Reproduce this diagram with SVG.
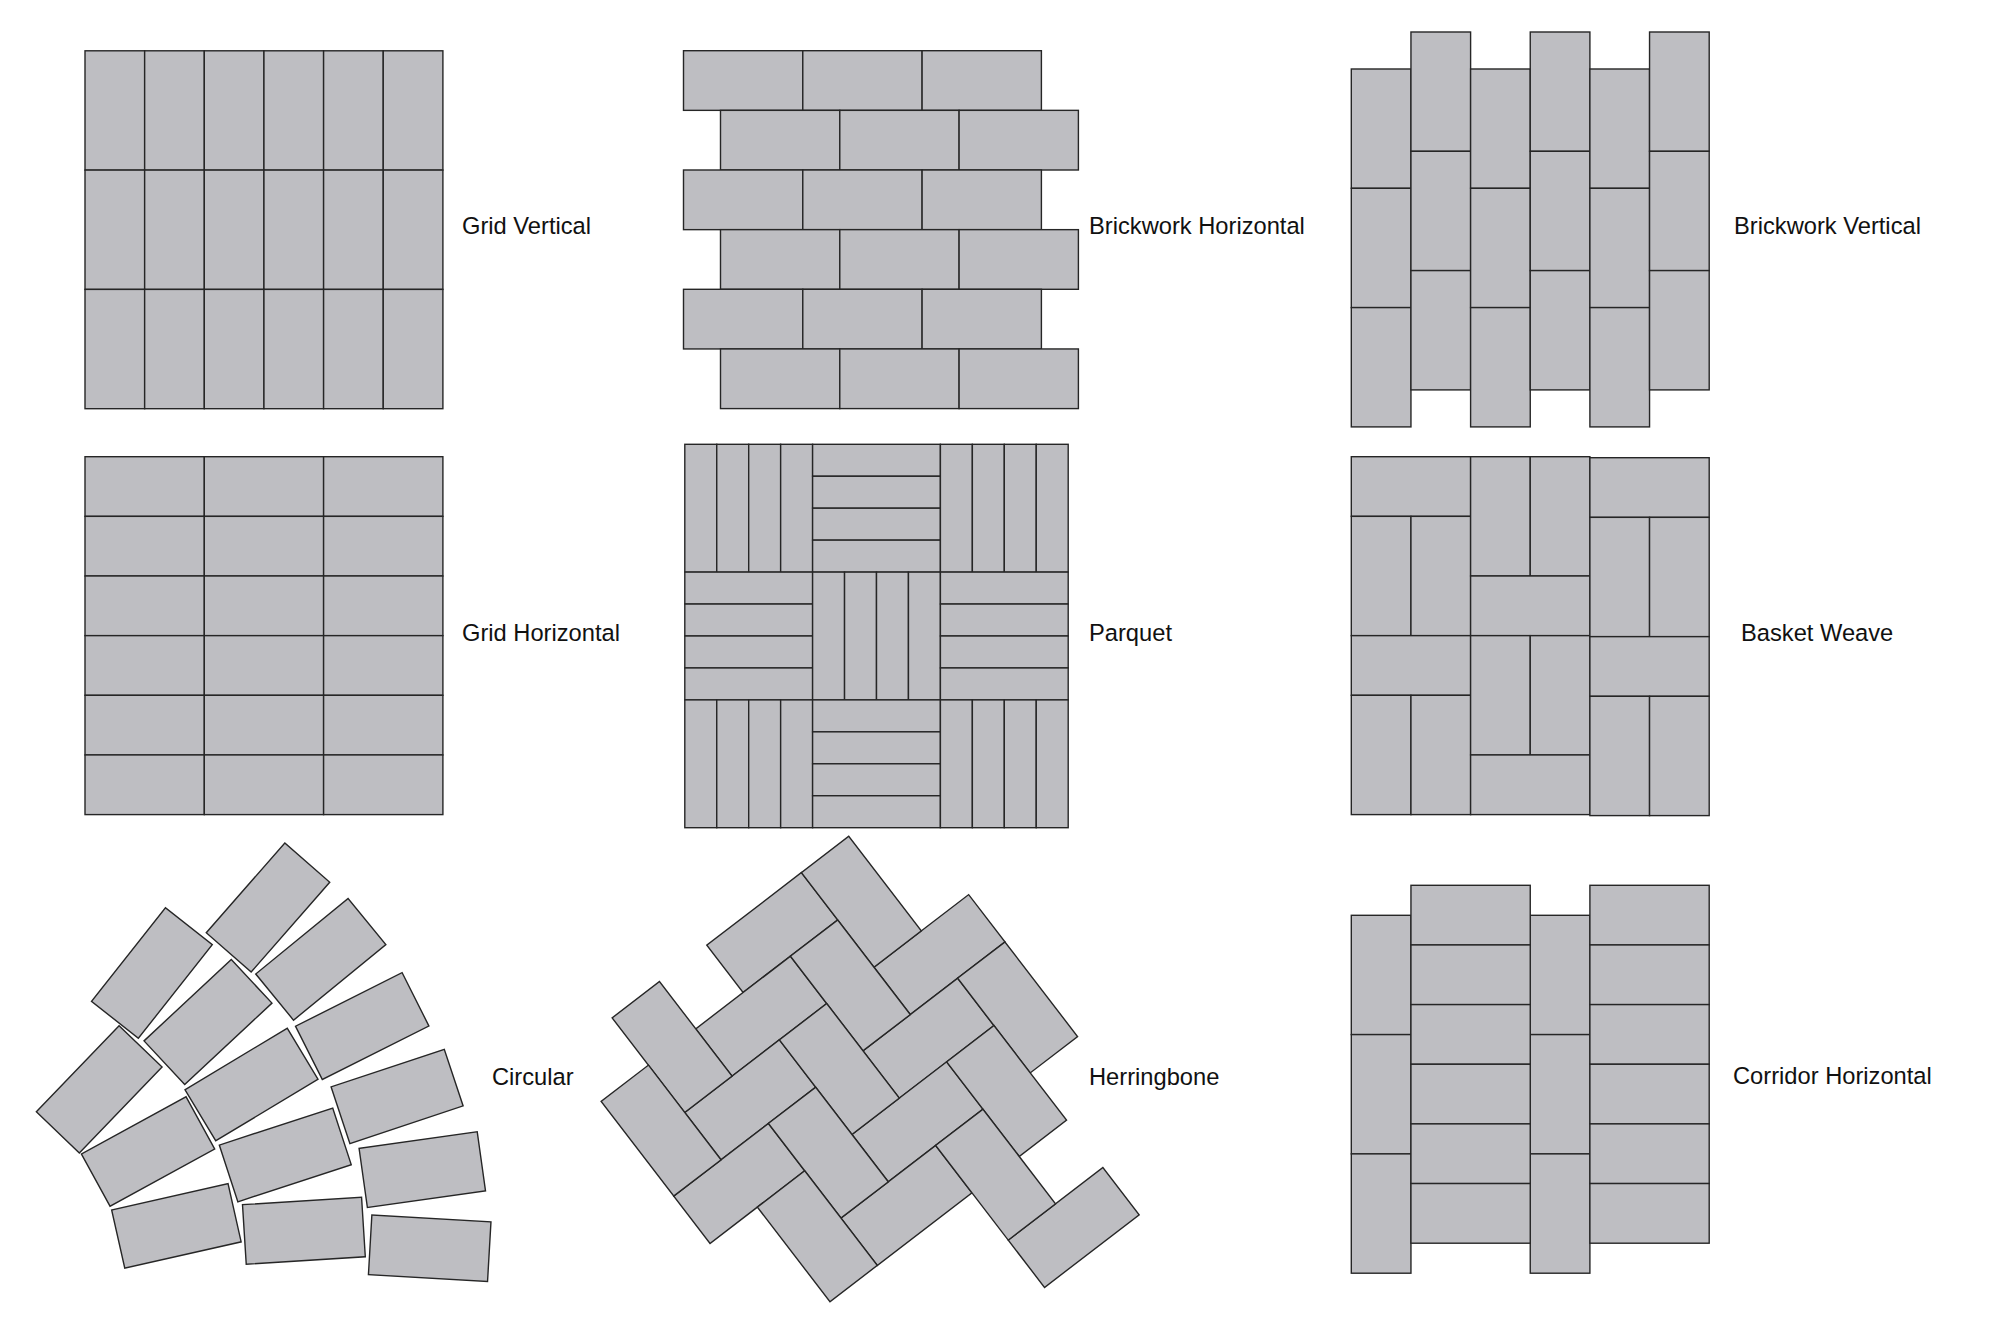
<svg xmlns="http://www.w3.org/2000/svg" xmlns:xlink="http://www.w3.org/1999/xlink" width="2000" height="1330" viewBox="0 0 2000 1330">
<style>
.t{fill:#bebec2;stroke:#262626;stroke-width:1.4;stroke-linejoin:miter}
.lbl{font-family:"Liberation Sans",Arial,Helvetica,sans-serif;font-size:23.7px;fill:#111}
</style>
<defs>
<rect id="v" class="t" width="59.65" height="119.3"/>
<rect id="h" class="t" width="119.3" height="59.65"/>
<g id="pv">
<rect class="t" x="0" y="0" width="31.95" height="127.8"/>
<rect class="t" x="31.95" y="0" width="31.95" height="127.8"/>
<rect class="t" x="63.9" y="0" width="31.95" height="127.8"/>
<rect class="t" x="95.85" y="0" width="31.95" height="127.8"/>
</g>
<g id="ph">
<rect class="t" x="0" y="0" width="127.8" height="31.95"/>
<rect class="t" x="0" y="31.95" width="127.8" height="31.95"/>
<rect class="t" x="0" y="63.9" width="127.8" height="31.95"/>
<rect class="t" x="0" y="95.85" width="127.8" height="31.95"/>
</g>
<rect id="ct" class="t" x="-59.65" y="-29.825" width="119.3" height="59.65"/>
</defs>
<rect width="2000" height="1330" fill="#ffffff"/>

<g id="grid-vertical">
<use href="#v" x="85" y="50.8"/><use href="#v" x="144.65" y="50.8"/><use href="#v" x="204.3" y="50.8"/><use href="#v" x="263.95" y="50.8"/><use href="#v" x="323.6" y="50.8"/><use href="#v" x="383.25" y="50.8"/>
<use href="#v" x="85" y="170.1"/><use href="#v" x="144.65" y="170.1"/><use href="#v" x="204.3" y="170.1"/><use href="#v" x="263.95" y="170.1"/><use href="#v" x="323.6" y="170.1"/><use href="#v" x="383.25" y="170.1"/>
<use href="#v" x="85" y="289.4"/><use href="#v" x="144.65" y="289.4"/><use href="#v" x="204.3" y="289.4"/><use href="#v" x="263.95" y="289.4"/><use href="#v" x="323.6" y="289.4"/><use href="#v" x="383.25" y="289.4"/>
<text class="lbl" x="462" y="234">Grid Vertical</text>
</g>

<g id="brickwork-horizontal">
<use href="#h" x="683.5" y="50.7"/><use href="#h" x="802.8" y="50.7"/><use href="#h" x="922.1" y="50.7"/>
<use href="#h" x="720.5" y="110.35"/><use href="#h" x="839.8" y="110.35"/><use href="#h" x="959.1" y="110.35"/>
<use href="#h" x="683.5" y="170"/><use href="#h" x="802.8" y="170"/><use href="#h" x="922.1" y="170"/>
<use href="#h" x="720.5" y="229.65"/><use href="#h" x="839.8" y="229.65"/><use href="#h" x="959.1" y="229.65"/>
<use href="#h" x="683.5" y="289.3"/><use href="#h" x="802.8" y="289.3"/><use href="#h" x="922.1" y="289.3"/>
<use href="#h" x="720.5" y="348.95"/><use href="#h" x="839.8" y="348.95"/><use href="#h" x="959.1" y="348.95"/>
<text class="lbl" x="1089" y="234">Brickwork Horizontal</text>
</g>

<g id="brickwork-vertical">
<use href="#v" x="1351.3" y="69"/><use href="#v" x="1351.3" y="188.3"/><use href="#v" x="1351.3" y="307.6"/>
<use href="#v" x="1410.95" y="32"/><use href="#v" x="1410.95" y="151.3"/><use href="#v" x="1410.95" y="270.6"/>
<use href="#v" x="1470.6" y="69"/><use href="#v" x="1470.6" y="188.3"/><use href="#v" x="1470.6" y="307.6"/>
<use href="#v" x="1530.25" y="32"/><use href="#v" x="1530.25" y="151.3"/><use href="#v" x="1530.25" y="270.6"/>
<use href="#v" x="1589.9" y="69"/><use href="#v" x="1589.9" y="188.3"/><use href="#v" x="1589.9" y="307.6"/>
<use href="#v" x="1649.55" y="32"/><use href="#v" x="1649.55" y="151.3"/><use href="#v" x="1649.55" y="270.6"/>
<text class="lbl" x="1734" y="234">Brickwork Vertical</text>
</g>

<g id="grid-horizontal">
<use href="#h" x="85" y="456.7"/><use href="#h" x="204.3" y="456.7"/><use href="#h" x="323.6" y="456.7"/>
<use href="#h" x="85" y="516.35"/><use href="#h" x="204.3" y="516.35"/><use href="#h" x="323.6" y="516.35"/>
<use href="#h" x="85" y="576"/><use href="#h" x="204.3" y="576"/><use href="#h" x="323.6" y="576"/>
<use href="#h" x="85" y="635.65"/><use href="#h" x="204.3" y="635.65"/><use href="#h" x="323.6" y="635.65"/>
<use href="#h" x="85" y="695.3"/><use href="#h" x="204.3" y="695.3"/><use href="#h" x="323.6" y="695.3"/>
<use href="#h" x="85" y="754.95"/><use href="#h" x="204.3" y="754.95"/><use href="#h" x="323.6" y="754.95"/>
<text class="lbl" x="462" y="640.7">Grid Horizontal</text>
</g>

<g id="parquet">
<use href="#pv" x="684.8" y="444.3"/><use href="#ph" x="812.6" y="444.3"/><use href="#pv" x="940.4" y="444.3"/>
<use href="#ph" x="684.8" y="572.1"/><use href="#pv" x="812.6" y="572.1"/><use href="#ph" x="940.4" y="572.1"/>
<use href="#pv" x="684.8" y="699.9"/><use href="#ph" x="812.6" y="699.9"/><use href="#pv" x="940.4" y="699.9"/>
<text class="lbl" x="1089" y="640.7">Parquet</text>
</g>

<g id="basket-weave">
<use href="#h" x="1351.3" y="456.7"/>
<use href="#v" x="1351.3" y="516.35"/><use href="#v" x="1410.95" y="516.35"/>
<use href="#h" x="1351.3" y="635.65"/>
<use href="#v" x="1351.3" y="695.3"/><use href="#v" x="1410.95" y="695.3"/>
<use href="#v" x="1470.6" y="456.7"/><use href="#v" x="1530.25" y="456.7"/>
<use href="#h" x="1470.6" y="576"/>
<use href="#v" x="1470.6" y="635.65"/><use href="#v" x="1530.25" y="635.65"/>
<use href="#h" x="1470.6" y="754.95"/>
<use href="#h" x="1589.9" y="457.7"/>
<use href="#v" x="1589.9" y="517.35"/><use href="#v" x="1649.55" y="517.35"/>
<use href="#h" x="1589.9" y="636.65"/>
<use href="#v" x="1589.9" y="696.3"/><use href="#v" x="1649.55" y="696.3"/>
<text class="lbl" x="1741" y="640.7">Basket Weave</text>
</g>

<g id="circular">
<use href="#ct" transform="translate(268 907.5) rotate(-48.8)"/>
<use href="#ct" transform="translate(151.9 973) rotate(-51.7)"/>
<use href="#ct" transform="translate(320.8 959.3) rotate(-39.3)"/>
<use href="#ct" transform="translate(362.2 1026.1) rotate(-26.7)"/>
<use href="#ct" transform="translate(397.1 1096.4) rotate(-18.4)"/>
<use href="#ct" transform="translate(422.3 1169.6) rotate(-8)"/>
<use href="#ct" transform="translate(429.7 1248.3) rotate(3.3)"/>
<use href="#ct" transform="translate(208 1022) rotate(-43)"/>
<use href="#ct" transform="translate(251.5 1084.5) rotate(-31)"/>
<use href="#ct" transform="translate(285.3 1154.9) rotate(-18.1)"/>
<use href="#ct" transform="translate(303.9 1230.7) rotate(-3.6)"/>
<use href="#ct" transform="translate(99.2 1089.4) rotate(-46.1)"/>
<use href="#ct" transform="translate(148.05 1151.5) rotate(-28.7)"/>
<use href="#ct" transform="translate(176.4 1225.9) rotate(-12.7)"/>
<text class="lbl" x="492" y="1085">Circular</text>
</g>

<g id="herringbone">
<g transform="translate(801.4 872.6) rotate(-37.5)">
<rect class="t" x="-119.28" y="0" width="119.28" height="59.64"/>
<rect class="t" x="0" y="119.28" width="119.28" height="59.64"/>
<rect class="t" x="-178.92" y="59.64" width="119.28" height="59.64"/>
<rect class="t" x="-238.56" y="119.28" width="119.28" height="59.64"/>
<rect class="t" x="-59.64" y="178.92" width="119.28" height="59.64"/>
<rect class="t" x="-119.28" y="238.56" width="119.28" height="59.64"/>
<rect class="t" x="-298.2" y="178.92" width="119.28" height="59.64"/>
<rect class="t" x="-178.92" y="298.2" width="119.28" height="59.64"/>
<rect class="t" x="-59.64" y="417.48" width="119.28" height="59.64"/>
<rect class="t" x="0" y="0" width="59.64" height="119.28"/>
<rect class="t" x="59.64" y="178.92" width="59.64" height="119.28"/>
<rect class="t" x="-59.64" y="59.64" width="59.64" height="119.28"/>
<rect class="t" x="-238.56" y="0" width="59.64" height="119.28"/>
<rect class="t" x="-298.2" y="59.64" width="59.64" height="119.28"/>
<rect class="t" x="-119.28" y="119.28" width="59.64" height="119.28"/>
<rect class="t" x="0" y="238.56" width="59.64" height="119.28"/>
<rect class="t" x="-178.92" y="178.92" width="59.64" height="119.28"/>
<rect class="t" x="-238.56" y="238.56" width="59.64" height="119.28"/>
<rect class="t" x="-59.64" y="298.2" width="59.64" height="119.28"/>
</g>
<text class="lbl" x="1089" y="1085">Herringbone</text>
</g>

<g id="corridor-horizontal">
<use href="#v" x="1351.3" y="915.3"/><use href="#v" x="1351.3" y="1034.6"/><use href="#v" x="1351.3" y="1153.9"/>
<use href="#v" x="1530.25" y="915.3"/><use href="#v" x="1530.25" y="1034.6"/><use href="#v" x="1530.25" y="1153.9"/>
<use href="#h" x="1410.95" y="885.3"/><use href="#h" x="1410.95" y="944.95"/><use href="#h" x="1410.95" y="1004.6"/><use href="#h" x="1410.95" y="1064.25"/><use href="#h" x="1410.95" y="1123.9"/><use href="#h" x="1410.95" y="1183.55"/>
<use href="#h" x="1589.9" y="885.3"/><use href="#h" x="1589.9" y="944.95"/><use href="#h" x="1589.9" y="1004.6"/><use href="#h" x="1589.9" y="1064.25"/><use href="#h" x="1589.9" y="1123.9"/><use href="#h" x="1589.9" y="1183.55"/>
<text class="lbl" x="1733" y="1084">Corridor Horizontal</text>
</g>
</svg>
